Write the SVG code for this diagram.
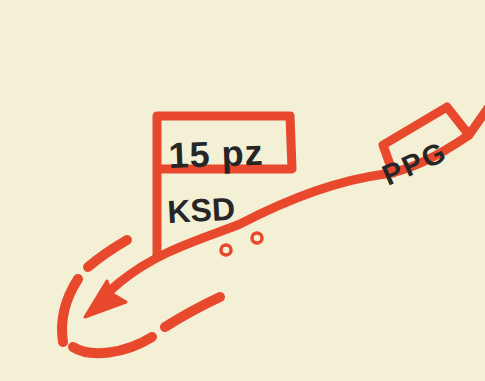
<svg xmlns="http://www.w3.org/2000/svg" width="485" height="381" viewBox="0 0 485 381">
<style>
.r{fill:none;stroke:#e8482c;stroke-width:9;stroke-linecap:round;stroke-linejoin:round}
.d{fill:none;stroke:#e8482c;stroke-width:10;stroke-linecap:round}
.w{fill:none;stroke:#e8482c;stroke-width:3.5}
.t{font-family:"Liberation Sans",Arial,sans-serif;fill:#262626;font-weight:bold}
</style>
<rect width="485" height="381" fill="#f3f0d6"/>
<g id="connectors">
<path class="r" d="M488 108 L469 135 C440 155 410 170 385 174 C340 180 290 198 240 224 C200 240 160 250 120 282 L104 296"/>
<path d="M85 317 L107 281 L111 293 L126 302 Z" fill="#e8482c" stroke="#e8482c" stroke-width="3" stroke-linejoin="round"/>
</g>
<g id="flag-15pz-KSD">
<path class="r" d="M157 256 L157 116 L290 116 L292 169 L158 169"/>
<text class="t" x="169" y="168" font-size="36" letter-spacing="1" transform="rotate(-2 169 168)">15 pz</text>
<text class="t" x="168" y="223" font-size="32" transform="rotate(-3 168 223)">KSD</text>
<circle class="w" cx="226" cy="250" r="5"/>
<circle class="w" cx="257" cy="238" r="5"/>
</g>
<g id="ppg">
<path class="r" d="M393 173 L383 145 L447 107 L469 135"/>
<text class="t" x="388" y="186" font-size="29" letter-spacing="2" transform="rotate(-24 388 186)">PPG</text>
</g>
<g id="assembly-area">
<path class="d" d="M88 267 Q106 252 127 240"/>
<path class="d" d="M78 279 Q58 310 63 342"/>
<path class="d" d="M73 347 C90 358 125 354 152 337"/>
<path class="d" d="M165 327 Q192 310 220 297"/>
</g>
</svg>
